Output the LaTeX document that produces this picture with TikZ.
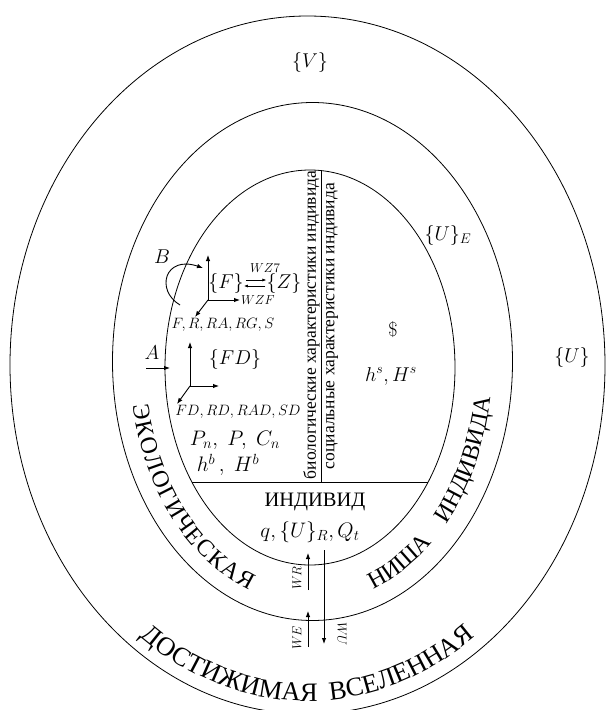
\RequirePackage{fix-cm}
\documentclass[tikz,border=0pt]{standalone}
\usepackage{fontspec}
\newfontfamily\cyr{Liberation Serif}
\usetikzlibrary{arrows.meta,decorations.text}
\newcommand\arcfont{\cyr\fontsize{24}{28}\selectfont}
\newcommand\arcfontb{\cyr\fontsize{26.5}{30}\selectfont}
\begin{document}
\begin{tikzpicture}[x=1pt,y=-1pt,
  ell/.style={line width=0.8pt},
  lbl/.style={inner sep=0pt, font=\fontsize{20}{24}\selectfont},
  sml/.style={inner sep=0pt, font=\fontsize{15}{18}\selectfont},
  tny/.style={inner sep=0pt, font=\fontsize{13}{15}\selectfont},
  vtxt/.style={inner sep=0pt, rotate=90, font=\cyr\fontsize{17.5}{20}\selectfont},
  ax/.style={line width=0.9pt, -{Latex[length=6pt,width=4.5pt]}},
  xar/.style={line width=0.7pt, -{Latex[length=4pt,width=3pt]}},
  arctext/.style={decorate, decoration={text along path, text align={fit to path}, text={#1}}},
  arctextsp/.style={decorate, decoration={text along path, text align={fit to path stretching spaces}, text={#1}}},
]
\useasboundingbox (0,0) rectangle (606,710);
\fill[white] (0,0) rectangle (606,710);

% ellipses
\draw[ell] (307.5,365) ellipse [x radius=297.5, y radius=349];
\draw[ell] (312.5,361.5) ellipse [x radius=200, y radius=259];
\draw[ell] (310,367.5) ellipse [x radius=145, y radius=197.5];
\begin{scope}
  \clip (310,367.5) ellipse [x radius=145, y radius=197.5];
  \draw[ell] (100,482) -- (500,482);
  \draw[ell] (321,100) -- (321,482);
\end{scope}

% arc texts
\path[arctext={|\arcfont|ЭКОЛОГИЧЕСКАЯ}, shift={(311,364)}]
  (-190:181 and 240) arc[start angle=-190, end angle=-250, x radius=181, y radius=240];
\path[arctextsp={|\arcfont|НИША ИНДИВИДА}, shift={(311,364)}]
  (-290:181 and 240) arc[start angle=-290, end angle=-352, x radius=181, y radius=240];
\path[arctextsp={|\arcfontb|ДОСТИЖИМАЯ ВСЕЛЕННАЯ}, shift={(307.5,365)}]
  (-234:285 and 336) arc[start angle=-234, end angle=-306, x radius=285, y radius=336];

% labels
\node[lbl] (V) at (310,62) {$\{V\}$};
\node[lbl] (U) at (572,357) {$\{U\}$};
\node[lbl] (UE) at (448,235) {$\{U\}_E$};
\node[lbl] (dol) at (393,330) {\$};
\node[lbl] (hs) at (391,376) {$h^{s}, H^{s}$};
\node[lbl] (Bl) at (162,257) {$B$};
\node[lbl] (Al) at (152,353) {$A$};
\node[lbl] (F) at (226,283) {$\{F\}$};
\node[lbl] (Z) at (284,283) {$\{Z\}$};
\node[tny] (wz7) at (265,268) {$WZ7$};
\node[tny, anchor=west] (wzf) at (241,300) {$WZF$};
\node[sml] (frr) at (223,325) {$F, R, RA, RG, S$};
\node[lbl] (FD) at (235,359) {$\{FD\}$};
\node[sml] (fdr) at (238,412) {$FD, RD, RAD, SD$};
\node[lbl, font=\fontsize{21}{25}\selectfont] (pn) at (235,440) {$P_{n},\; P,\; C_{n}$};
\node[lbl, font=\fontsize{21}{25}\selectfont] (hb) at (228,465) {$h^{b}\,,\; H^{b}$};
\node[inner sep=0pt, font=\cyr\fontsize{20.5}{24}\selectfont] (ind) at (315,502) {ИНДИВИД};
\node[lbl, font=\fontsize{21}{25}\selectfont] (q) at (310,532) {$q, \{U\}_R, Q_t$};
\node[vtxt] (bio) at (311.5,325) {биологические характеристики индивида};
\node[vtxt] (soc) at (332,326) {социальные характеристики индивида};
\node[tny, rotate=90] (wr) at (297,578) {$WR$};
\node[tny, rotate=90] (we) at (297,638) {$WE$};
\node[tny, rotate=-90] (wu) at (342,634) {$WU$};

% exchange arrows
\draw[xar] ([yshift=3pt]F.east) ++(2,0) -- ([yshift=3pt]Z.west);
\draw[xar] ([yshift=-3pt]Z.west) ++(-1,0) -- ([yshift=-3pt]F.east);

% F axes
\coordinate (o1) at (208,300);
\coordinate (o1u) at (208,255);
\coordinate (o1r) at (240,300);
\coordinate (o1d) at (195,317);
\draw[ax] (o1) -- (o1u);
\draw[ax] (o1) -- (o1r);
\draw[ax] (o1) -- (o1d);

% FD axes
\coordinate (o2) at (190,386);
\coordinate (o2u) at (190,342);
\coordinate (o2r) at (219,386);
\coordinate (o2d) at (177,404);
\draw[ax] (o2) -- (o2u);
\draw[ax] (o2) -- (o2r);
\draw[ax] (o2) -- (o2d);

% A and B
\coordinate (a1) at (146,368);
\coordinate (a2) at (170,368);
\draw[ax] (a1) -- (a2);
\coordinate (b1) at (180,305);
\coordinate (b2) at (203,268);
\draw[ax] (b1) .. controls (155,290) and (165,255) .. (b2);

% bottom arrows
\coordinate (wr1) at (308,590);
\coordinate (wr2) at (308,553);
\coordinate (we1) at (308,647);
\coordinate (we2) at (308,611);
\coordinate (wu1) at (324,550);
\coordinate (wu2) at (324,644);
\draw[ax] (wr1) -- (wr2);
\draw[ax] (we1) -- (we2);
\draw[ax] (wu1) -- (wu2);
\end{tikzpicture}
\end{document}
